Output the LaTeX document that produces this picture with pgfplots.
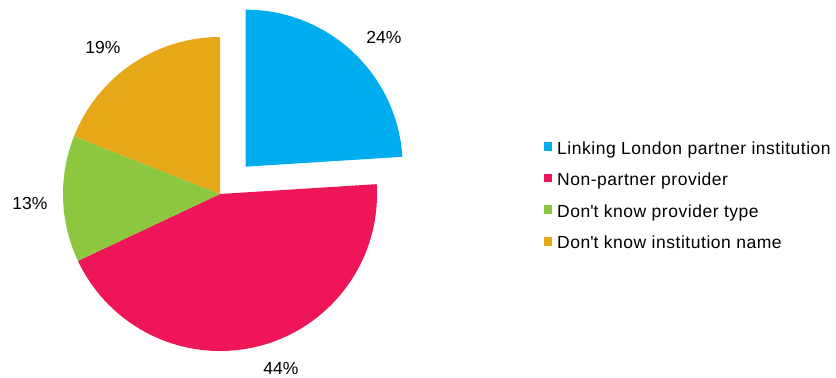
\documentclass[border=0pt]{standalone}
\usepackage{pgfplots}
\usepackage{pgfplotstable}
\pgfplotsset{compat=1.18}
\usepackage{fontspec}
\setmainfont{Liberation Sans}
\newfontfamily\legendfont[LetterSpace=3]{Liberation Sans}

\definecolor{lkblue}{HTML}{00AEEF}
\definecolor{lkpink}{HTML}{EE1558}
\definecolor{lkgreen}{HTML}{8DC63F}
\definecolor{lkorange}{HTML}{E6A817}

% Share of responses by provider type (percent)
\pgfplotstableread[col sep=comma]{
label,value
Linking London partner institution,24
Non-partner provider,44
Don't know provider type,13
Don't know institution name,19
}\piedata

\begin{document}
\begin{tikzpicture}
% slice sizes
\pgfplotstablegetelem{0}{value}\of\piedata \pgfmathtruncatemacro\vA{\pgfplotsretval}
\pgfplotstablegetelem{1}{value}\of\piedata \pgfmathtruncatemacro\vB{\pgfplotsretval}
\pgfplotstablegetelem{2}{value}\of\piedata \pgfmathtruncatemacro\vC{\pgfplotsretval}
\pgfplotstablegetelem{3}{value}\of\piedata \pgfmathtruncatemacro\vD{\pgfplotsretval}
% boundary angles, clockwise from the top
\pgfmathsetmacro\aZ{90}
\pgfmathsetmacro\aA{\aZ-3.6*\vA}
\pgfmathsetmacro\aB{\aA-3.6*\vB}
\pgfmathsetmacro\aC{\aB-3.6*\vC}
\pgfmathsetmacro\aD{\aC-3.6*\vD}
\pgfmathsetmacro\mA{(\aZ+\aA)/2}
\def\R{157pt}
\begin{axis}[
  scale only axis, width=836pt, height=376pt,
  xmin=0, xmax=836, ymin=0, ymax=376,
  hide axis, clip=false,
  font=\fontsize{17.5}{21}\selectfont,
]
\path (rel axis cs:0,0) rectangle (rel axis cs:1,1);
% exploded first slice
\fill[lkblue] (axis cs:220,182) ++(\mA:37.5pt) -- ++(\aZ:\R)
  arc[start angle=\aZ, end angle=\aA, radius=\R] -- cycle;
\fill[lkpink] (axis cs:220,182) -- ++(\aA:\R)
  arc[start angle=\aA, end angle=\aB, radius=\R] -- cycle;
\fill[lkgreen] (axis cs:220,182) -- ++(\aB:\R)
  arc[start angle=\aB, end angle=\aC, radius=\R] -- cycle;
\fill[lkorange] (axis cs:220,182) -- ++(\aC:\R)
  arc[start angle=\aC, end angle=\aD, radius=\R] -- cycle;
% value labels
\node at (axis cs:384,339) {\vA\%};
\node at (axis cs:281,8) {\vB\%};
\node at (axis cs:30,173) {\vC\%};
\node at (axis cs:103,329) {\vD\%};
% legend
\fill[lkblue]   (axis cs:543.5,225.3) rectangle (axis cs:552,233.8);
\fill[lkpink]   (axis cs:543.5,193.7) rectangle (axis cs:552,202.2);
\fill[lkgreen]  (axis cs:543.5,162.1) rectangle (axis cs:552,170.6);
\fill[lkorange] (axis cs:543.5,130.5) rectangle (axis cs:552,139.0);
\begin{scope}[every node/.style={anchor=base west, inner sep=0pt, font=\legendfont\fontsize{17.5}{21}\selectfont}]
\node at (axis cs:557,222.0) {Linking London partner institution};
\node at (axis cs:557,190.4) {Non-partner provider};
\node at (axis cs:557,158.8) {Don\textquotesingle t know provider type};
\node at (axis cs:557,127.2) {Don\textquotesingle t know institution name};
\end{scope}
\end{axis}
\end{tikzpicture}
\end{document}
